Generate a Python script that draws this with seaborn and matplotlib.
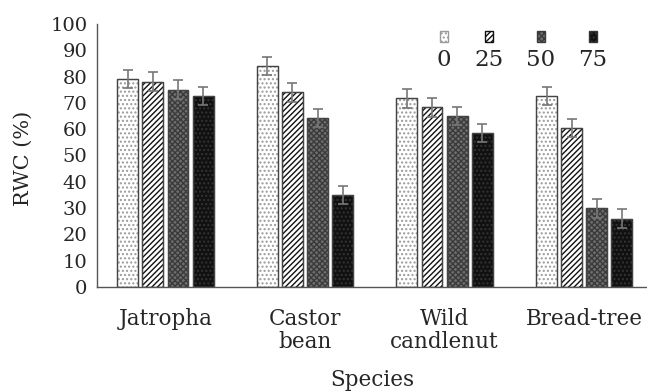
import pandas as pd
import matplotlib
matplotlib.use("Agg")
import matplotlib.pyplot as plt
import seaborn as sns
from matplotlib.patches import Patch
from matplotlib.offsetbox import VPacker

# RWC data
species = ["Jatropha", "Castor\nbean", "Wild\ncandlenut", "Bread-tree"]
levels = ["0", "25", "50", "75"]
rwc_0 = [79.1, 83.9, 71.7, 72.6]
rwc_25 = [78.1, 74.0, 68.3, 60.5]
rwc_50 = [75.0, 64.3, 65.0, 30.0]
rwc_75 = [72.7, 35.0, 58.6, 26.0]
err_0 = [3.5, 3.5, 3.6, 3.6]
err_25 = [3.5, 3.6, 3.6, 3.4]
err_50 = [3.7, 3.4, 3.6, 3.6]
err_75 = [3.5, 3.5, 3.5, 3.5]

rows = []
for lev, vals, errs in zip(levels, [rwc_0, rwc_25, rwc_50, rwc_75],
                           [err_0, err_25, err_50, err_75]):
    for sp, v, e in zip(species, vals, errs):
        rows.append({"Species": sp, "Level": lev, "RWC": v, "err": e})
df = pd.DataFrame(rows)

sns.set_style("white")
plt.rcParams["font.family"] = ["DejaVu Serif"]
plt.rcParams["hatch.linewidth"] = 1.0

fig = plt.figure(figsize=(6.47, 3.92), dpi=100)
ax = fig.add_axes([0.15, 0.268, 0.85, 0.671])

sns.barplot(data=df, x="Species", y="RWC", hue="Level", order=species,
            hue_order=levels, errorbar=None, width=0.72, gap=0.17,
            ax=ax, legend=False)

faces = ["white", "white", "#6e6e6e", "#111111"]
hatches = ["....", "//////", "xxxxxx", "...."]
edges = ["#9a9a9a", "#111111", "#3a3a3a", "#333333"]
for cont, fc, h, ec, lev in zip(ax.containers, faces, hatches, edges, levels):
    sub = df[df["Level"] == lev].set_index("Species").loc[species]
    xs = []
    for bar in cont:
        bar.set_facecolor(fc)
        bar.set_hatch(h)
        bar.set_edgecolor(ec)
        bar.set_linewidth(0.8)
        xs.append(bar.get_x() + bar.get_width() / 2)
    ax.errorbar(xs, sub["RWC"], yerr=sub["err"], fmt="none",
                ecolor="#777777", elinewidth=1.2, capsize=3.5, capthick=1.2)
    # redraw outline in dark gray
    for bar in cont:
        ax.add_patch(plt.Rectangle((bar.get_x(), 0), bar.get_width(),
                                   bar.get_height(), fill=False,
                                   edgecolor="#444444", linewidth=1.0))

ax.set_xlim(-0.49, 3.45)
ax.set_ylim(0, 100)
ax.set_yticks(range(0, 101, 10))
ax.tick_params(axis="y", labelsize=14, length=2, color="#888888", pad=5)
ax.tick_params(axis="x", labelsize=15.5, length=0, pad=15)
for lab in ax.get_xticklabels():
    lab.set_linespacing(1.1)
ax.set_xlabel("Species", fontsize=15.5, labelpad=11)
ax.set_ylabel("RWC (%)", fontsize=15)
ax.yaxis.set_label_coords(-0.117, 0.49)
for s in ["top", "right"]:
    ax.spines[s].set_visible(False)
for s in ["left", "bottom"]:
    ax.spines[s].set_color("#555555")
    ax.spines[s].set_linewidth(1.0)

handles = [Patch(facecolor=fc, hatch=h, edgecolor=ec)
           for fc, h, ec in zip(faces, hatches, edges)]
leg = ax.legend(handles, levels, ncol=4, frameon=False, fontsize=16.5,
                handlelength=0.35, handleheight=0.35, columnspacing=1.0,
                handletextpad=0.3, borderpad=0, loc="upper right",
                bbox_to_anchor=(619 / 647, 1 - 20 / 392),
                bbox_transform=fig.transFigure)
# stack each handle above its label
for col in leg._legend_handle_box.get_children():
    for row in col.get_children():
        row.__class__ = VPacker
        row.align = "center"

fig.savefig("out.png", dpi=100)
